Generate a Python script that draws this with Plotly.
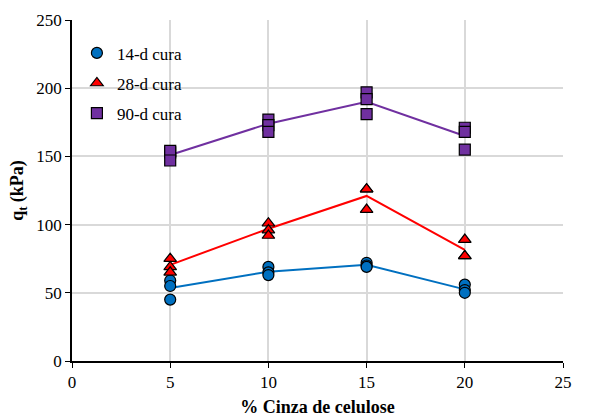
import plotly.graph_objects as go

# Data
x_pts = [5, 5, 5, 10, 10, 10, 15, 15, 15, 20, 20, 20]
q14 = [59, 55, 45, 69, 65, 63, 72, 70, 69, 56, 52, 50]
q28 = [75, 69, 65, 101, 96, 92, 126, 126, 111, 89, 77, 77]
q90 = [153, 154, 147, 177, 173, 168, 197, 192, 181, 171, 168, 155]

x_line = [5, 10, 15, 20]
m14 = [53.5, 65.5, 70.5, 52.5]
m28 = [70.5, 97, 121, 81.5]
m90 = [151, 174, 190, 165]

names = ["14-d cura", "28-d cura", "90-d cura"]
marker_colors = ["#0070C0", "#FF0000", "#7030A0"]
line_colors = ["#0070C0", "#FF0000", "#7030A0"]
symbols = ["circle", "triangle-up", "square"]

FONT = "Times New Roman"
tickfont = dict(family=FONT, size=17, color="black")

fig = go.Figure()
for m, lc in zip([m14, m28, m90], line_colors):
    fig.add_trace(go.Scatter(x=x_line, y=m, mode="lines",
                             line=dict(color=lc, width=2),
                             showlegend=False, hoverinfo="skip"))
for q, name, mc, sym in zip([q14, q28, q90], names, marker_colors, symbols):
    fig.add_trace(go.Scatter(x=x_pts, y=q, mode="markers", name=name,
                             legendgroup=name,
                             marker=dict(symbol=sym, size=11, color=mc,
                                         line=dict(color="black", width=1.2))))

fig.update_layout(
    width=598, height=417,
    margin=dict(l=72, r=35, t=20, b=56),
    paper_bgcolor="white", plot_bgcolor="white",
    font=dict(family=FONT, size=17, color="black"),
    legend=dict(x=0.01, y=0.955, xanchor="left", yanchor="top",
                bgcolor="rgba(0,0,0,0)",
                font=dict(family=FONT, size=17, color="black"),
                tracegroupgap=5),
    xaxis=dict(range=[0, 25], dtick=5, showgrid=True, gridcolor="#D9D9D9",
               gridwidth=1.5, showline=True, linecolor="black", linewidth=1.5,
               ticks="outside", ticklen=5, tickcolor="black", zeroline=False,
               automargin=False, tickfont=tickfont,
               title=dict(text="<b>% Cinza de celulose</b>",
                          font=dict(family=FONT, size=18), standoff=12)),
    yaxis=dict(range=[0, 250], dtick=50, showgrid=True, gridcolor="#D9D9D9",
               gridwidth=1.5, showline=True, linecolor="black", linewidth=1.5,
               ticks="outside", ticklen=5, tickcolor="black", zeroline=False,
               automargin=False, tickfont=tickfont,
               title=dict(text="<b>q<sub>t</sub> (kPa)</b>",
                          font=dict(family=FONT, size=18), standoff=8)),
)

fig.write_html("out.html", config={"displayModeBar": False},
               post_script="document.body.style.margin='0';")
